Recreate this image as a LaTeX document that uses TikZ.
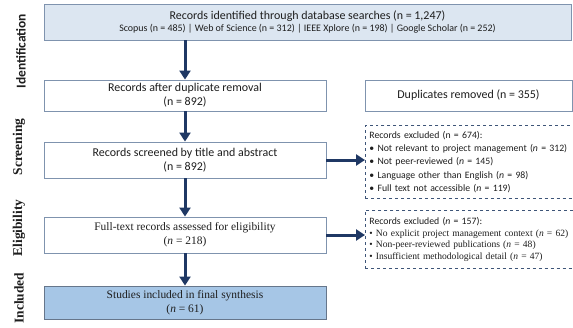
\documentclass[tikz,border=0pt]{standalone}
\usepackage{fontspec}
\setmainfont{Liberation Serif}
\newfontfamily\calfont{Carlito}
\usetikzlibrary{arrows.meta}
\definecolor{navy}{HTML}{1F3864}
\definecolor{boxline}{HTML}{7F93AE}
\definecolor{topfill}{HTML}{DCE6F1}
\definecolor{incfill}{HTML}{A6C6E6}
\definecolor{dashline}{HTML}{3E5578}
\definecolor{txt}{HTML}{1E1E1E}
\tikzset{
  flowbox/.style={draw=boxline, line width=0.9bp, fill=white, minimum width=282bp, minimum height=36bp, align=center, inner sep=1bp, text=txt},
  exbox/.style={draw=dashline, dashed, line width=0.8bp, anchor=north west, align=left, text width=240bp, inner xsep=4bp, inner ysep=1bp, text=txt},
  flowarrow/.style={draw=navy, line width=3bp, -{Triangle[width=11bp,length=9bp]}},
  stagelab/.style={rotate=90, font=\bfseries\fontsize{13.5}{15}\selectfont, text=txt}
}
\begin{document}
\begin{tikzpicture}[x=1bp,y=-1bp]
\useasboundingbox (0,0) rectangle (573,327);
\clip (0,0) rectangle (573,327);
\fill[white] (0,0) rectangle (573,327);

% stage labels
\node[stagelab, font=\calfont\bfseries\fontsize{13.5}{15}\selectfont] (sid) at (21,51) {Identification};
\node[stagelab] (ssc) at (19,147) {Screening};
\node[stagelab] (sel) at (19,228) {Eligibility};
\node[stagelab] (sin) at (19,298) {Included};

% main boxes
\node[flowbox, fill=topfill, minimum width=527bp, font=\calfont\fontsize{12}{12}\selectfont] (top) at (307.5,22)
  {Records identified through database searches (n = 1,247)\\[0bp]
   {\fontsize{10}{12}\selectfont Scopus (n = 485) | Web of Science (n = 312) | IEEE Xplore (n = 198) | Google Scholar (n = 252)}};
\node[flowbox, minimum height=31bp, font=\calfont\fontsize{12}{14}\selectfont] (dedup) at (185,95.5)
  {Records after duplicate removal\\(n = 892)};
\node[flowbox, minimum width=207bp, minimum height=31bp, font=\calfont\fontsize{12}{14}\selectfont] (dup) at (468.5,95.5)
  {Duplicates removed (n = 355)};
\node[flowbox, font=\calfont\fontsize{12}{14}\selectfont] (scr) at (185,160)
  {Records screened by title and abstract\\(n = 892)};
\node[flowbox, font=\fontsize{11.5}{14}\selectfont] (full) at (185,235)
  {Full-text records assessed for eligibility\\(\textit{n} = 218)};
\node[flowbox, fill=incfill, minimum height=33bp, draw=boxline!80!black, font=\fontsize{11.5}{14}\selectfont] (inc) at (185,302.5)
  {Studies included in final synthesis\\(\textit{n} = 61)};

% exclusion boxes
\node[exbox, minimum height=73bp, font=\calfont\fontsize{9.8}{13.3}\selectfont] (ex1) at (365,125)
  {Records excluded (n = 674):\\
   \textbullet\ Not relevant to project management (\textit{n} = 312)\\
   \textbullet\ Not peer-reviewed (\textit{n} = 145)\\
   \textbullet\ Language other than English (\textit{n} = 98)\\
   \textbullet\ Full text not accessible (\textit{n} = 119)};
\node[exbox, minimum height=58bp, font=\fontsize{9.6}{11.7}\selectfont] (ex2) at (365,210)
  {{\calfont\fontsize{9.8}{11.7}\selectfont Records excluded (\textit{n} = 157):}\\
   \textbullet\ No explicit project management context (\textit{n} = 62)\\
   \textbullet\ Non-peer-reviewed publications (\textit{n} = 48)\\
   \textbullet\ Insufficient methodological detail (\textit{n} = 47)};

% arrows
\draw[flowarrow] (dedup.north |- top.south) -- (dedup.north);
\draw[flowarrow] (dedup.south) -- (scr.north);
\draw[flowarrow] (scr.south) -- (full.north);
\draw[flowarrow] (full.south) -- (inc.north);
\draw[flowarrow] (scr.east) -- (scr.east -| ex1.west);
\draw[flowarrow] (full.east) -- (full.east -| ex2.west);
\end{tikzpicture}
\end{document}
